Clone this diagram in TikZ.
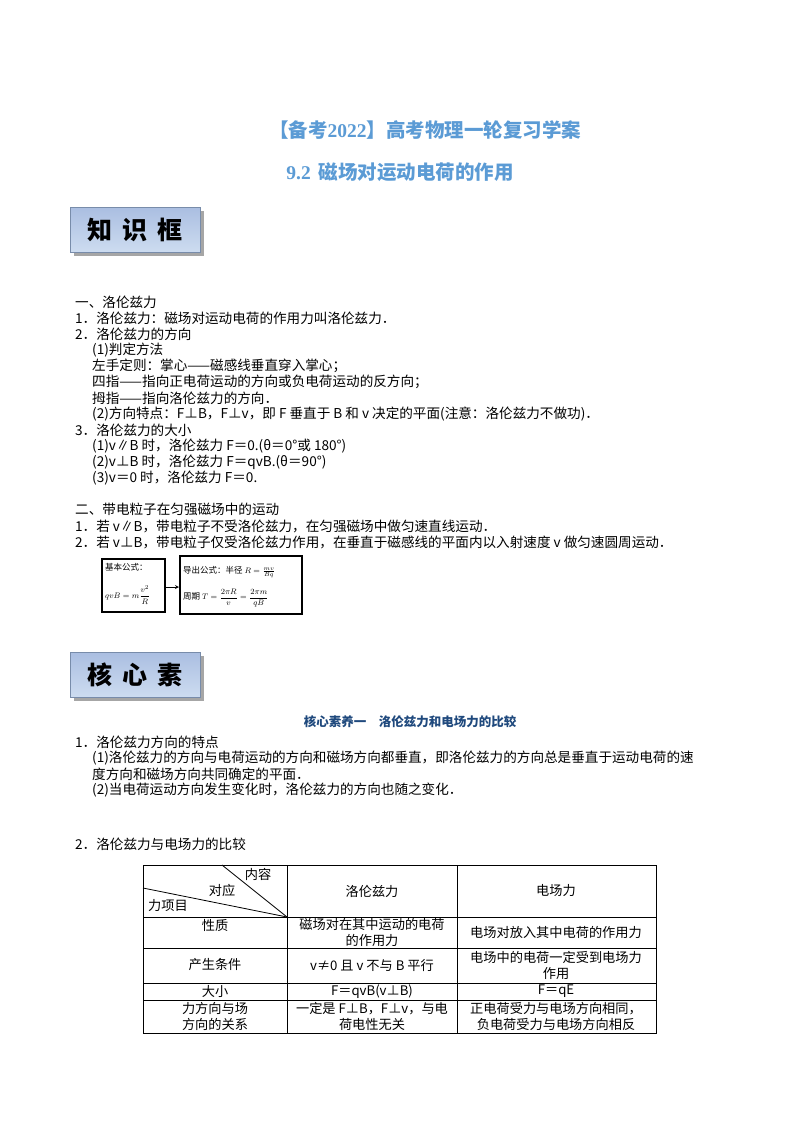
\documentclass[tikz,border=0pt]{standalone}
\usepackage{fontspec}
\setmainfont{Noto Sans CJK SC}
\newfontfamily\serifl{Liberation Serif}
\begin{document}
\begin{tikzpicture}[x=1pt,y=-1pt,
 tx/.style={anchor=west,inner sep=0pt,font=\fontsize{13.6}{15}\selectfont},
 tc/.style={align=center,inner sep=0pt,font=\fontsize{13.2}{16}\selectfont},
 ttl/.style={font=\fontsize{19.5}{22}\selectfont\bfseries,text={rgb,255:red,91;green,155;blue,213}},
 hbox/.style={draw={rgb,255:red,120;green,140;blue,170},top color={rgb,255:red,170;green,190;blue,225},bottom color={rgb,255:red,205;green,220;blue,240},inner sep=0pt,minimum width=130,minimum height=45,font=\fontsize{25}{27}\selectfont\bfseries}]
\useasboundingbox (0,0) rectangle (800,1132);
\fill[white] (0,0) rectangle (800,1132);
\node[ttl] (t1) at (425,130) {【备考{\serifl 2022}】高考物理一轮复习学案};
\node[ttl] (t2) at (400,172) {{\serifl 9.2}\, 磁场对运动电荷的作用};
% header boxes
\fill[gray!70] (74,211) rectangle (204,256);
\node[hbox] (h1) at (135,229.5) {知\hspace{0.4em}识\hspace{0.4em}框};
\fill[gray!70] (74,656) rectangle (204,701);
\node[hbox] (h2) at (135,674.5) {核\hspace{0.4em}心\hspace{0.4em}素};
% text
\node[tx] (a1) at (75,302) {一、洛伦兹力};
\node[tx] (a2) at (75,318) {1．洛伦兹力：磁场对运动电荷的作用力叫洛伦兹力．};
\node[tx] (a3) at (75,334) {2．洛伦兹力的方向};
\node[tx] (a4) at (92,350) {(1)判定方法};
\node[tx] (a5) at (92,366) {左手定则：掌心——磁感线垂直穿入掌心；};
\node[tx] (a6) at (92,382) {四指——指向正电荷运动的方向或负电荷运动的反方向；};
\node[tx] (a7) at (92,398) {拇指——指向洛伦兹力的方向．};
\node[tx] (a8) at (92,414) {(2)方向特点：F⊥B，F⊥v，即 F 垂直于 B 和 v 决定的平面(注意：洛伦兹力不做功)．};
\node[tx] (a9) at (75,430) {3．洛伦兹力的大小};
\node[tx] (a10) at (92,446) {(1)v∥B 时，洛伦兹力 F＝0.(θ＝0°或 180°)};
\node[tx] (a11) at (92,462) {(2)v⊥B 时，洛伦兹力 F＝qvB.(θ＝90°)};
\node[tx] (a12) at (92,478) {(3)v＝0 时，洛伦兹力 F＝0.};
\node[tx] (b1) at (75,509) {二、带电粒子在匀强磁场中的运动};
\node[tx] (b2) at (75,526) {1．若 v∥B，带电粒子不受洛伦兹力，在匀强磁场中做匀速直线运动．};
\node[tx] (b3) at (75,542) {2．若 v⊥B，带电粒子仅受洛伦兹力作用，在垂直于磁感线的平面内以入射速度 v 做匀速圆周运动．};
% formula boxes
\draw[line width=1.2pt] (102,559) rectangle (165,612);
\node[anchor=north west,inner sep=1pt,font=\fontsize{8.5}{10}\selectfont] (f1) at (104,562) {基本公式：};
\node[anchor=west,inner sep=1pt,font=\fontsize{8.5}{10}\selectfont] (f1b) at (104,595) {$\displaystyle qvB=m\frac{v^2}{R}$};
\draw[line width=1.2pt] (180,556) rectangle (302,614);
\node[anchor=west,inner sep=1pt,font=\fontsize{8.5}{10}\selectfont] (f2) at (182,572) {导出公式：半径 $R=\frac{mv}{Bq}$};
\node[anchor=west,inner sep=1pt,font=\fontsize{8.5}{10}\selectfont] (f2b) at (182,598) {周期 $\displaystyle T=\frac{2\pi R}{v}=\frac{2\pi m}{qB}$};
\coordinate (ar1) at (166,587); \coordinate (ar2) at (179,587);
\draw[-stealth,line width=0.8pt] (ar1) -- (ar2);
% second section
\node[font=\fontsize{12.5}{14}\selectfont\bfseries,text={rgb,255:red,31;green,73;blue,125}] (c0) at (410,722) {核心素养一\quad 洛伦兹力和电场力的比较};
\node[tx] (c1) at (75,742) {1．洛伦兹力方向的特点};
\node[tx] (c2) at (92,758) {(1)洛伦兹力的方向与电荷运动的方向和磁场方向都垂直，即洛伦兹力的方向总是垂直于运动电荷的速};
\node[tx] (c3) at (92,774) {度方向和磁场方向共同确定的平面．};
\node[tx] (c4) at (92,790) {(2)当电荷运动方向发生变化时，洛伦兹力的方向也随之变化．};
\node[tx] (c5) at (75,844) {2．洛伦兹力与电场力的比较};
% table
\draw[line width=0.6pt] (143,865) rectangle (656,1033);
\foreach \x in {287,457} \draw[line width=0.6pt] (\x,865) -- (\x,1033);
\foreach \y in {917,948,983,1000} \draw[line width=0.6pt] (143,\y) -- (656,\y);
\coordinate (dg) at (287,917);
\coordinate (dl) at (143,888); \coordinate (dt) at (222,865);
\draw[line width=0.8pt] (dl) -- (dg); \draw[line width=0.8pt] (dt) -- (dg);
\node[tc] (k1) at (258,874) {内容};
\node[tc] (k2) at (222,890) {对应};
\node[tc] (k3) at (168,906) {力项目};
\node[tc] (k4) at (372,891) {洛伦兹力};
\node[tc] (k5) at (556,891) {电场力};
\node[tc] (r1) at (215,925) {性质};
\node[tc] (r1b) at (372,932) {磁场对在其中运动的电荷\\的作用力};
\node[tc] (r1c) at (556,932) {电场对放入其中电荷的作用力};
\node[tc] (r2) at (215,965) {产生条件};
\node[tc] (r2b) at (372,965) {v≠0 且 v 不与 B 平行};
\node[tc] (r2c) at (556,965) {电场中的电荷一定受到电场力\\作用};
\node[tc] (r3) at (215,991.5) {大小};
\node[tc] (r3b) at (372,991.5) {F＝qvB(v⊥B)};
\node[tc] (r3c) at (556,991.5) {F＝qE};
\node[tc] (r4) at (215,1016.5) {力方向与场\\方向的关系};
\node[tc] (r4b) at (372,1016.5) {一定是 F⊥B，F⊥v，与电\\荷电性无关};
\node[tc] (r4c) at (556,1016.5) {正电荷受力与电场方向相同，\\负电荷受力与电场方向相反};
\end{tikzpicture}
\end{document}
